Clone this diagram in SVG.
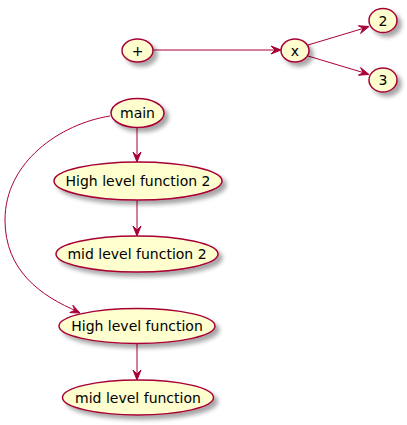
<svg xmlns="http://www.w3.org/2000/svg" width="407" height="425" viewBox="0 0 407 425">
<defs>
<filter id="sh" x="-20%" y="-20%" width="150%" height="160%">
<feGaussianBlur in="SourceAlpha" stdDeviation="2"/>
<feOffset dx="4" dy="4" result="b"/>
<feComponentTransfer><feFuncA type="linear" slope="0.35"/></feComponentTransfer>
<feMerge><feMergeNode/><feMergeNode in="SourceGraphic"/></feMerge>
</filter>
</defs>
<style>
.n ellipse{fill:#FEFECE;stroke:#A80036;stroke-width:1.5;filter:url(#sh)}
.n text{font-family:"DejaVu Sans",sans-serif;font-size:14px;fill:#000;text-anchor:middle}
.e path{fill:none;stroke:#A80036;stroke-width:1}
.e polygon{fill:#A80036;stroke:#A80036;stroke-width:1}
</style>
<rect width="407" height="425" fill="#fff"/>
<g id="edges" class="e">
<path d="M153,50 L280,50"/>
<polygon points="281,50 271,46 275,50 271,54"/>
<path d="M308,45 L368,27"/>
<polygon points="369,26.5 358.4,25.8 363.2,28.2 360.6,33.5"/>
<path d="M308,56 L368,74"/>
<polygon points="369,74.5 360.6,67.5 363.2,72.8 358.4,75.2"/>
<path d="M137,128 L137,161"/>
<polygon points="137,162 133,152 137,156 141,152"/>
<path d="M137,200 L137,235"/>
<polygon points="137,236 133,226 137,230 141,226"/>
<path d="M110,116 C60,124 5,162 5,220 C5,270 40,296 79,312"/>
<polygon points="80,313 72.8,305.2 74.9,310.2 69.8,312.6"/>
<path d="M137,344 L137,379"/>
<polygon points="137,380 133,370 137,374 141,370"/>
</g>
<g id="plus" class="n"><ellipse cx="137.5" cy="50.5" rx="15.5" ry="11.5"/><text x="137.5" y="55.5">+</text></g>
<g id="x" class="n"><ellipse cx="295" cy="50.5" rx="14" ry="11.5"/><text x="295" y="55.5">x</text></g>
<g id="two" class="n"><ellipse cx="383" cy="20.5" rx="14" ry="12"/><text x="383" y="25.5">2</text></g>
<g id="three" class="n"><ellipse cx="383" cy="80" rx="14" ry="12"/><text x="383" y="85">3</text></g>
<g id="main" class="n"><ellipse cx="137.5" cy="113" rx="26.5" ry="14.5"/><text x="137.5" y="118">main</text></g>
<g id="hlf2" class="n"><ellipse cx="138" cy="181" rx="84" ry="19"/><text x="138" y="186">High level function 2</text></g>
<g id="mlf2" class="n"><ellipse cx="137" cy="254" rx="81" ry="18"/><text x="137" y="259">mid level function 2</text></g>
<g id="hlf" class="n"><ellipse cx="137" cy="326" rx="78" ry="17.5"/><text x="137" y="331">High level function</text></g>
<g id="mlf" class="n"><ellipse cx="138" cy="397.5" rx="75.5" ry="17.5"/><text x="138" y="402.5">mid level function</text></g>
</svg>
